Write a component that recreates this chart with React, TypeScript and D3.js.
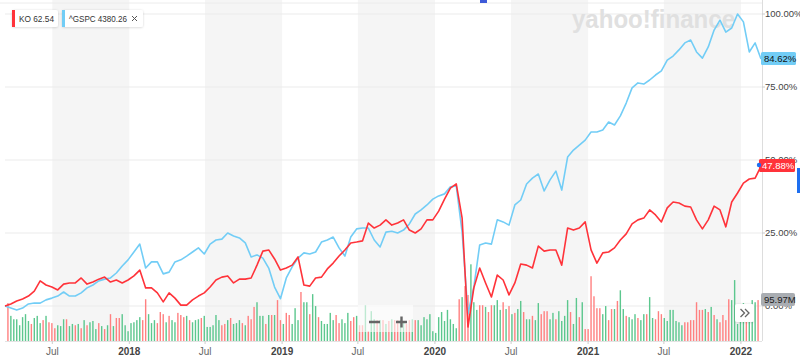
import React from 'react';
import * as d3 from 'd3';

const START = new Date(2017, 2, 10);
const END = new Date(2022, 1, 18);
const LAST_BAR = new Date(2022, 1, 11);

// % change since start, one value every two weeks
const koPct = [
  0, 0.7, 1.7, 2.4, 3.4, 5.1, 8.6, 7.2, 6.5, 5.5,
  7.5, 7.9, 7.9, 9.6, 7.5, 8.2, 9.2, 9.9, 8.2, 8.9,
  7.9, 8.9, 10.3, 12.3, 6.2, 6.2, 4.5, 1.4, 4.5, 2.7,
  0.3, 0.3, 2.1, 3.4, 4.5, 6.5, 8.9, 9.9, 10.3, 7.9,
  9.2, 9.2, 9.6, 14, 18.8, 19.2, 16.1, 12.3, 13, 14,
  16.8, 7.2, 6.8, 9.6, 9.9, 12.7, 14.7, 17.1, 19.2, 21.6,
  21.9, 22.3, 28.4, 26.7, 27.7, 29.5, 27.7, 28.4, 29.5, 26,
  25, 26.4, 29.5, 29.5, 32.5, 36.6, 40.4, 41.8, 30.1, -7.2,
  6.2, 13, 7.9, 3.1, 10.6, 8.9, 3.8, 7.9, 14.4, 14,
  13, 20.5, 18.8, 19.2, 19.2, 14, 26.7, 26, 26.7, 28.8,
  19.2, 14.7, 18.2, 18.5, 19.9, 22.6, 24.7, 28.1, 29.5, 30.1,
  32.9, 31.2, 28.8, 33.6, 35.6, 35.3, 34.2, 33.9, 29.5, 26.4,
  29.5, 34.2, 32.9, 27.1, 35.6, 38.7, 42.1, 43.5, 43.8, 47.88,
];
const spxPct = [
  0, -0.7, -1.4, -0.7, 0.7, 1, 1, 2.1, 2.7, 3.4,
  4.8, 3.4, 3.4, 4.5, 6.2, 7.2, 8.6, 9.2, 9.6, 11.3,
  13.7, 15.8, 18.5, 21.2, 13, 15.1, 15.1, 11, 11.6, 15.1,
  15.8, 17.1, 18.5, 19.9, 17.8, 21.2, 22.6, 22.9, 25, 24,
  23.3, 21.6, 16.8, 17.5, 16.4, 13, 6.5, 2.5, 9.6, 13.4,
  16.4, 18.2, 17.8, 18.5, 21.9, 22.6, 23.6, 19.9, 17.1, 23.6,
  26.4, 26.7, 26.7, 22.6, 20.2, 25.3, 25.6, 25, 26, 28.1,
  31.5, 32.9, 34.6, 36.6, 37.7, 38.4, 40.8, 41.1, 25.3, -2.7,
  6.5, 20.9, 21.6, 21.2, 29.5, 28.8, 27.7, 34.6, 36.3, 41.8,
  43.8, 45.2, 39.4, 43.2, 46.2, 39.7, 51, 53.4, 55.1, 56.8,
  59.6, 59.6, 60.3, 63, 62, 65.1, 69.5, 74.7, 76.4, 76,
  77.4, 79.1, 80.5, 84.2, 85.6, 87.7, 90.1, 91.1, 87, 84.9,
  88.7, 94.5, 97.9, 93.8, 95.2, 100, 97.3, 87, 90.1, 84.62,
];

// KO weekly volume, millions
const volumes = [
  89, 59, 51, 51, 37, 56, 63, 47, 40, 54, 59, 42, 49, 59, 44, 42, 30, 37, 35, 51,
  51, 35, 40, 37, 40, 30, 49, 37, 44, 47, 28, 42, 35, 28, 37, 63, 35, 54, 54, 63,
  37, 23, 42, 44, 49, 56, 49, 98, 63, 42, 49, 42, 68, 63, 44, 59, 49, 44, 66, 61,
  56, 59, 49,
  44, 49, 51, 54, 59, 33, 33, 37, 61, 49, 37, 40, 49, 54, 40, 42, 49, 42, 37, 59,
  51, 80, 91, 59, 59, 40, 61, 61, 61, 96, 49, 40, 66, 61, 40, 77, 49, 115, 91, 91,
  63, 110, 82, 56, 47, 40, 40, 66, 49, 61, 42, 51, 42, 66, 47, 56, 59, 37, 37, 84,
  23, 70, 51, 49,
  49, 49, 40, 47, 51, 49, 49, 49, 44, 40, 49, 51, 49, 49, 37, 56, 51, 63, 23, 19,
  56, 68, 47, 73, 51, 40, 30,
  98, 103, 129, 108, 180, 91, 73, 84, 84, 80, 68, 84, 84, 96, 73, 91, 75, 82, 63, 66,
  75, 94, 68, 51, 51, 59, 49, 89, 63, 70, 70, 51, 66, 51, 70, 47, 59, 96,
  68, 40, 101, 56, 91, 28, 28, 152, 105, 77, 77, 63, 82, 49, 75, 75, 94, 119, 75, 59,
  56, 51, 63, 54, 49, 63, 63, 103, 54, 51, 70, 63, 54, 47, 73, 73, 47, 44, 37, 44,
  44, 49, 49, 91, 73, 73, 75, 68, 80, 61, 51, 44, 61, 49, 98, 96, 143, 40, 70, 89,
  61, 84, 96, 91, 96,
];
const volumeUp = [
  0, 1, 1, 1, 1, 1, 1, 1, 0, 1, 1, 1, 0, 1, 0, 0, 0, 1, 1, 1,
  0, 1, 1, 0, 1, 0, 1, 0, 1, 1, 1, 0, 1, 0, 1, 0, 1, 0, 0, 1,
  1, 1, 1, 1, 1, 1, 0, 0, 1, 1, 1, 0, 0, 0, 1, 0, 1, 1, 0, 0,
  0, 1, 0,
  1, 1, 1, 0, 1, 1, 1, 1, 1, 1, 0, 0, 1, 0, 1, 1, 1, 0, 1, 0,
  0, 0, 1, 1, 1, 0, 1, 0, 1, 0, 0, 1, 0, 0, 1, 1, 1, 0, 1, 1,
  0, 1, 1, 0, 1, 1, 1, 1, 1, 0, 0, 1, 1, 1, 0, 0, 1, 0, 0, 1,
  0, 1, 1, 0,
  1, 0, 1, 0, 1, 0, 0, 1, 1, 0, 0, 1, 0, 1, 1, 1, 1, 1, 1, 1,
  1, 1, 1, 1, 1, 1, 1,
  0, 1, 0, 0, 1, 1, 1, 0, 0, 1, 0, 0, 1, 1, 1, 0, 1, 0, 1, 0,
  1, 1, 0, 1, 1, 0, 1, 1, 0, 0, 0, 1, 1, 0, 1, 1, 1, 1,
  0, 1, 1, 0, 1, 0, 0, 0, 0, 0, 0, 1, 1, 0, 0, 1, 0, 1, 1, 0,
  1, 1, 1, 0, 1, 1, 0, 1, 1, 0, 0, 0, 1, 1, 1, 1, 1, 1, 1, 0,
  0, 0, 0, 0, 0, 0, 1, 0, 1, 0, 1, 0, 0, 0, 0, 1, 1, 1, 1, 1,
  0, 1, 1, 1, 0,
];

const pctTicks = [0, 25, 50, 75, 100];
const legendSymbols = ['KO', '^GSPC'];
const legendPrices = ['62.54', '4380.26'];
const lastVolumeLabel = '95.97M';

const RED = '#ff333a';
const BLUE = '#72cdf6';
const FONT = '"Liberation Sans", Arial, sans-serif';

export default function App() {
  const x = d3.scaleTime().domain([START, END]).range([5, 761]);
  const y = d3.scaleLinear().domain([0, 100]).range([306, 14]);
  const yVol = d3.scaleLinear().domain([0, 230]).range([341, 243]);

  const lineDates = koPct.map((_, i) => d3.timeDay.offset(START, 14 * i));
  const line = d3.line<number>().x((_, i) => x(lineDates[i])).y(d => y(d));
  const barDates = volumes.map((_, i) => d3.timeDay.offset(LAST_BAR, -7 * (volumes.length - 1 - i)));

  const ticks = d3.timeMonth.every(6)!.range(START, END);
  const bands = ticks.filter(t => t.getMonth() === 6);

  const legendW = [46, 81];
  const legendTextW = [35, 58];
  let lx = 12;

  return (
    <div style={{ position: 'absolute', left: 0, top: 0 }}>
      <svg width={800} height={362} style={{ display: 'block', fontFamily: FONT }}>
        <defs>
          <filter id="sh" x="-20%" y="-30%" width="140%" height="160%">
            <feDropShadow dx="0" dy="0.5" stdDeviation="1" floodColor="#000" floodOpacity="0.18" />
          </filter>
        </defs>
        <rect width={800} height={362} fill="#fff" />
        {bands.map((b, i) => (
          <rect key={i} x={x(b)} y={0} width={x(d3.timeMonth.offset(b, 6)) - x(b)} height={341} fill="#f5f5f5" />
        ))}
        <line x1={0} x2={762} y1={3} y2={3} stroke="#ececec" />
        {pctTicks.map(t => (
          <line key={t} x1={5} x2={762} y1={y(t)} y2={y(t)} stroke="#ebebeb" />
        ))}
        <line x1={5} x2={762} y1={341.5} y2={341.5} stroke="#e3e3e3" />

        <text x={572} y={28} fontSize={26} fontWeight="bold" fill="#e0e0e0" textLength={163} lengthAdjust="spacingAndGlyphs">yahoo!finance</text>

        {volumes.map((v, i) => (
          <rect key={i} x={x(barDates[i]) - 0.7} y={yVol(v)} width={1.4} height={341 - yVol(v)}
            fill={volumeUp[i] ? '#5cc78e' : '#ff8080'} />
        ))}

        <path d={line(spxPct) || ''} fill="none" stroke={BLUE} strokeWidth={1.6} strokeLinejoin="round" />
        <path d={line(koPct) || ''} fill="none" stroke={RED} strokeWidth={1.6} strokeLinejoin="round" />

        <line x1={762.5} x2={762.5} y1={0} y2={341} stroke="#dddddd" />
        {pctTicks.map(t => (
          <g key={t}>
            <line x1={762} x2={765} y1={y(t)} y2={y(t)} stroke="#cccccc" />
            <text x={765} y={y(t)} dy="0.35em" fontSize={9.5} fill="#444">{t.toFixed(2)}%</text>
          </g>
        ))}

        {ticks.map((t, i) => {
          const isYear = t.getMonth() === 0;
          return (
            <g key={i}>
              <line x1={x(t)} x2={x(t)} y1={341} y2={344} stroke="#cccccc" />
              <text x={x(t)} y={355} textAnchor="middle" fontSize={10} fontWeight={isYear ? 'bold' : 'normal'}
                fill={isYear ? '#444' : '#666'}>
                {isYear ? t.getFullYear() : 'Jul'}
              </text>
            </g>
          );
        })}

        {/* last values */}
        <rect x={761} y={52} width={35} height={13} rx={1.5} fill={BLUE} />
        <text x={764} y={58.5} dy="0.35em" fontSize={9.5} fill="#111">{spxPct[spxPct.length - 1].toFixed(2)}%</text>
        <rect x={759} y={159} width={36} height={13} rx={1.5} fill={RED} />
        <text x={762} y={165.5} dy="0.35em" fontSize={9.5} fill="#fff">{koPct[koPct.length - 1].toFixed(2)}%</text>
        <circle cx={759} cy={165} r={2.2} fill="#1e6ff0" />
        <rect x={797} y={168} width={3} height={25} fill="#1e6ff0" />
        <rect x={480} y={0} width={7} height={3} fill="#3d5ad8" />
        <rect x={761} y={293} width={34} height={13} rx={2} fill="#a9adb2" />
        <text x={764} y={299.5} dy="0.35em" fontSize={9.5} fill="#222">{lastVolumeLabel}</text>

        {/* legend */}
        {legendSymbols.map((s, i) => {
          const x0 = lx;
          lx += legendW[i] + 4;
          return (
            <g key={s}>
              <rect x={x0} y={10} width={legendW[i]} height={17} rx={2} fill="#fff" filter="url(#sh)" />
              <rect x={x0} y={10} width={3} height={17} fill={i === 0 ? RED : BLUE} />
              <text x={x0 + 7} y={18.5} dy="0.35em" fontSize={9.5} fill="#333"
                textLength={legendTextW[i]} lengthAdjust="spacingAndGlyphs">
                {s} {legendPrices[i]}
              </text>
              {i === 1 && (
                <path d={`M${x0 + 70},${16} l5,5 M${x0 + 75},${16} l-5,5`} stroke="#555" strokeWidth={1} />
              )}
            </g>
          );
        })}

        {/* zoom controls */}
        <rect x={358} y={305} width={55} height={27} fill="#fff" opacity={0.6} />
        <path d="M369,322 h11 M396,322 h11 M401.5,316.5 v11" stroke="#666" strokeWidth={2.4} />
        <rect x={735} y={304} width={19} height={18} rx={2} fill="#fff" filter="url(#sh)" />
        <path d="M740.5,309 l4,4 l-4,4 M745,309 l4,4 l-4,4" fill="none" stroke="#666" strokeWidth={1.3} />
      </svg>
    </div>
  );
}
